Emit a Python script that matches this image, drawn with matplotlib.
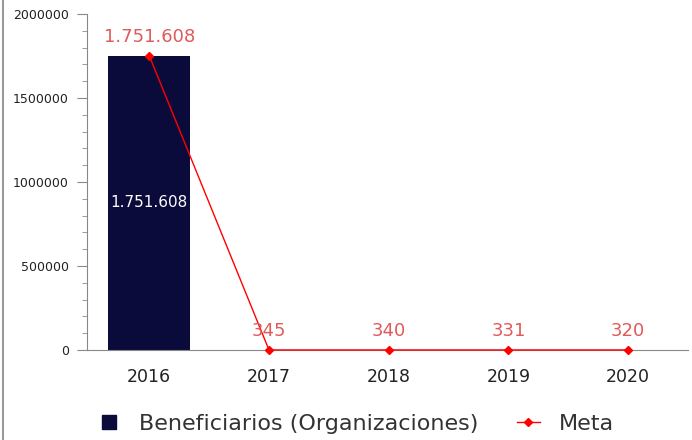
import matplotlib
matplotlib.use("Agg")
import matplotlib.pyplot as plt
from matplotlib.lines import Line2D
from matplotlib.ticker import MultipleLocator
import numpy as np

plt.rcParams["font.family"] = ["DejaVu Sans"]

years = ["2016", "2017", "2018", "2019", "2020"]
beneficiarios = [1751608, None, None, None, None]
meta = [1751608, 345, 340, 331, 320]
meta_labels = ["1.751.608", "345", "340", "331", "320"]
bar_labels = ["1.751.608", "", "", "", ""]
yticks = [0, 500000, 1000000, 1500000, 2000000]
ytick_labels = ["0", "500000", "1000000", "1500000", "2000000"]

fig = plt.figure(figsize=(6.92, 4.40), dpi=100)
ax = fig.add_axes([87/692, 1-350/440, (688-87)/692, (350-14)/440])

x = np.arange(len(years))
bar_color = "#0b0b3b"
for i, v in enumerate(beneficiarios):
    if v is not None:
        ax.bar(x[i], v, width=0.685, color=bar_color, zorder=2)
        ax.text(x[i], v / 2, bar_labels[i], color="white", ha="center", va="center",
                fontsize=11, zorder=4)

ax.plot(x, meta, color="red", lw=1.0, marker="D", markersize=4.5, zorder=3, clip_on=False)
for i, v in enumerate(meta):
    ax.annotate(meta_labels[i], (x[i], v), xytext=(0, 7), textcoords="offset points",
                color="#e05a5a", ha="center", va="bottom", fontsize=13, zorder=4)

ax.set_xlim(-0.52, 4.5)
ax.set_ylim(0, 2000000)
ax.set_xticks(x)
ax.set_xticklabels(years, fontsize=12.5, color="#222222")
ax.tick_params(axis="x", length=0, pad=13)
ax.yaxis.set_minor_locator(MultipleLocator(100000))
ax.set_yticks(yticks)
ax.set_yticklabels(ytick_labels, fontsize=9, color="#222222")
ax.tick_params(axis="y", which="major", length=7.2, color="#888888", pad=6)
ax.tick_params(axis="y", which="minor", length=3.6, color="#888888")
for s in ["top", "right"]:
    ax.spines[s].set_visible(False)
ax.spines["left"].set_color("#888888")
ax.spines["bottom"].set_color("#888888")

# left border line
fig.add_artist(Line2D([3/692, 3/692], [0, 1], color="#999999", lw=1.5, transform=fig.transFigure))

handles = [
    Line2D([], [], marker="s", color=bar_color, linestyle="None", markersize=10),
    Line2D([], [], marker="D", color="red", lw=1.0, markersize=4.5),
]
leg = fig.legend(handles, ["Beneficiarios (Organizaciones)", "Meta"], loc="center",
                 bbox_to_anchor=(355.5/692, 1-424/440), ncol=2, frameon=False, fontsize=16,
                 handlelength=1.05, columnspacing=1.7, handletextpad=0.85, borderpad=0,
                 borderaxespad=0)
for t in leg.get_texts():
    t.set_color("#333333")

fig.savefig("out.png", dpi=100)
